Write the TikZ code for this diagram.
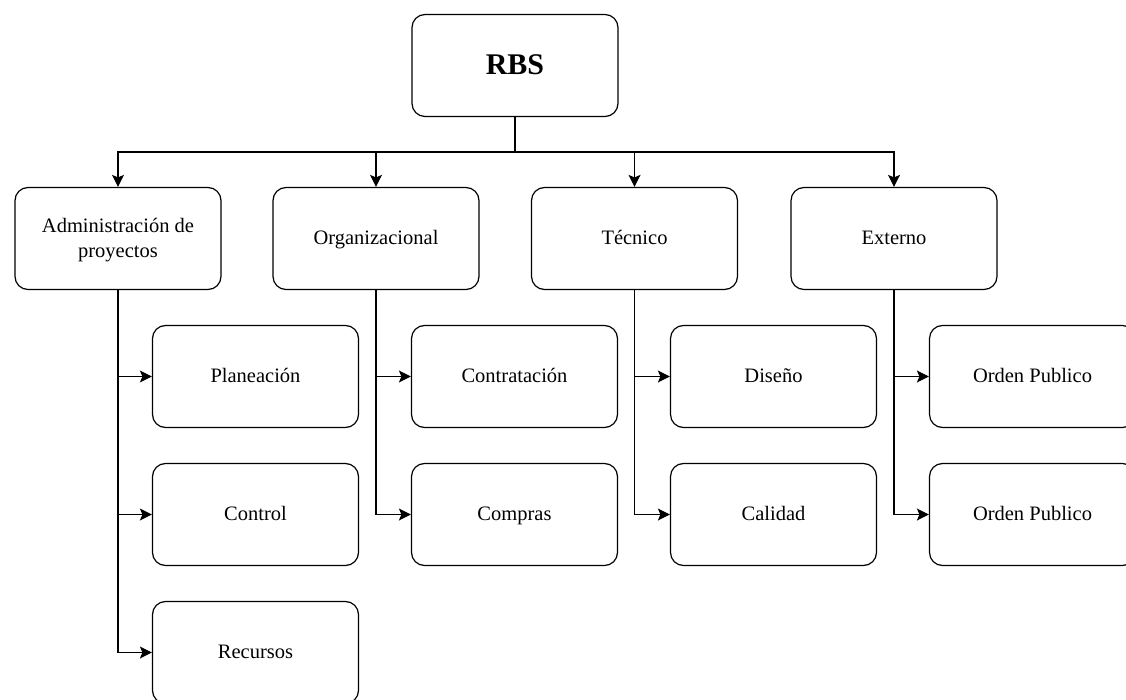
\documentclass[tikz,border=0pt]{standalone}
\usepackage{fontspec}
\setmainfont{Liberation Serif}
\usetikzlibrary{arrows.meta}

\begin{document}
\begin{tikzpicture}[x=1pt, y=-1pt,
  box/.style={draw, line width=1.2pt, rounded corners=13pt, minimum width=206pt, minimum height=102pt,
    align=center, text depth=2pt, font=\fontsize{20.5}{25}\selectfont},
  arr/.style={line width=1.2pt, -{Stealth[length=12pt, width=12pt, inset=2.5pt]}}]
\useasboundingbox (0,0) rectangle (1126,700);
%\draw [lightgray](0,0) grid (1126,700);

\node [box, font=\fontsize{30}{34}\selectfont\bfseries] (rbs) at (515,65.5) {RBS};

% first level
\node [box] (admin) at (118,238.5) {Administración de\\proyectos};
\node [box] (org) at (376,238.5) {Organizacional};
\node [box] (tec) at (634.5,238.5) {Técnico};
\node [box] (ext) at (894,238.5) {Externo};

% second level
\node [box] (plan) at (255.5,376.5) {Planeación};
\node [box] (ctrl) at (255.5,514.5) {Control};
\node [box] (recu) at (255.5,652.5) {Recursos};
\node [box] (contr) at (514.5,376.5) {Contratación};
\node [box] (comp) at (514.5,514.5) {Compras};
\node [box] (dise) at (773.5,376.5) {Diseño};
\node [box] (cali) at (773.5,514.5) {Calidad};
\node [box] (ord1) at (1032.5,376.5) {Orden Publico};
\node [box] (ord2) at (1032.5,514.5) {Orden Publico};

\coordinate (bus) at (515,152);
\draw [line width=1.2pt] (rbs.south) -- (bus);
\draw [arr] (bus) -| (admin.north);
\draw [arr] (bus) -| (org.north);
\draw [arr] (bus) -| (tec.north);
\draw [arr] (bus) -| (ext.north);

\draw [arr] (admin.south) |- (plan.west);
\draw [arr] (admin.south) |- (ctrl.west);
\draw [arr] (admin.south) |- (recu.west);
\draw [arr] (org.south) |- (contr.west);
\draw [arr] (org.south) |- (comp.west);
\draw [arr] (tec.south) |- (dise.west);
\draw [arr] (tec.south) |- (cali.west);
\draw [arr] (ext.south) |- (ord1.west);
\draw [arr] (ext.south) |- (ord2.west);

\end{tikzpicture}
\end{document}
